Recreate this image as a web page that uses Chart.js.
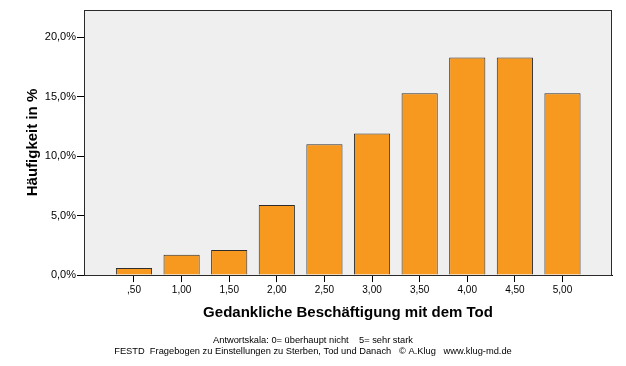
<!DOCTYPE html>
<html>
<head>
<meta charset="utf-8">
<script src="https://cdn.jsdelivr.net/npm/chart.js@4/dist/chart.umd.min.js"></script>
<style>
  html, body { margin: 0; padding: 0; background: #fff; }
  #wrap { width: 626px; height: 366px; }
</style>
</head>
<body>
<div id="wrap"><canvas id="barChart"></canvas></div>
<script>
// Gedankliche Beschäftigung mit dem Tod (Antwortskala 0-5)
const scores = [0.5, 1.0, 1.5, 2.0, 2.5, 3.0, 3.5, 4.0, 4.5, 5.0];
const tickLabels = [',50', '1,00', '1,50', '2,00', '2,50', '3,00', '3,50', '4,00', '4,50', '5,00'];
const percents = [0.6, 1.7, 2.1, 5.9, 11.0, 11.9, 15.3, 18.3, 18.3, 15.3];
const yTicks = [0, 5, 10, 15, 20];

const FONT = '"Liberation Sans", Arial, sans-serif';

// plot background + frame
const plotFrame = {
  id: 'plotFrame',
  beforeDraw(chart) {
    const { ctx, chartArea: a } = chart;
    ctx.save();
    ctx.fillStyle = '#efefef';
    ctx.fillRect(a.left, a.top, a.right - a.left, a.bottom - a.top);
    ctx.restore();
  },
  afterDraw(chart) {
    const { ctx, chartArea: a } = chart;
    ctx.save();
    ctx.strokeStyle = '#2a2a2a';
    ctx.lineWidth = 1;
    ctx.strokeRect(Math.round(a.left) + 0.5, Math.round(a.top) + 0.5,
      Math.round(a.right - a.left) - 1, Math.round(a.bottom - a.top));
    ctx.restore();
  },
};

new Chart(document.getElementById('barChart'), {
  type: 'bar',
  data: {
    datasets: [{
      data: scores.map((s, i) => ({ x: s, y: percents[i] })),
      backgroundColor: '#f7981f',
      borderColor: '#2e2e2e',
      borderWidth: 1,
      borderSkipped: 'bottom',
      barPercentage: 0.76,
      categoryPercentage: 1,
    }],
  },
  options: {
    responsive: true,
    maintainAspectRatio: false,
    animation: false,
    layout: {
      padding: { top: 10, right: 14, left: 14, bottom: 0 },
    },
    plugins: {
      legend: { display: false },
      tooltip: { enabled: false },
      title: {
        display: true,
        position: 'bottom',
        text: [
          'Antwortskala: 0= überhaupt nicht    5= sehr stark',
          'FESTD  Fragebogen zu Einstellungen zu Sterben, Tod und Danach   © A.Klug   www.klug-md.de',
        ],
        color: '#000',
        font: { family: FONT, size: 9.3, weight: 'normal', lineHeight: 1.18 },
        padding: { top: 10, bottom: 9 },
      },
    },
    scales: {
      x: {
        type: 'linear',
        min: -0.025,
        max: 5.52,
        offset: false,
        afterBuildTicks: (axis) => {
          axis.ticks = scores.map((v) => ({ value: v }));
        },
        afterFit: (axis) => { axis.height = 50; },
        grid: {
          offset: false,
          drawOnChartArea: false,
          drawTicks: true,
          tickLength: 7,
          tickColor: '#000',
        },
        border: { color: '#000', width: 1 },
        ticks: {
          autoSkip: false,
          maxRotation: 0,
          padding: 2,
          color: '#000',
          font: { family: FONT, size: 10 },
          callback: (value, index) => tickLabels[index],
        },
        title: {
          display: true,
          text: 'Gedankliche Beschäftigung mit dem Tod',
          color: '#000',
          font: { family: FONT, size: 15, weight: 'bold' },
          padding: { top: 0, bottom: 3 },
        },
      },
      y: {
        min: 0,
        max: 22.3,
        afterBuildTicks: (axis) => {
          axis.ticks = yTicks.map((v) => ({ value: v }));
        },
        afterFit: (axis) => { axis.width = 70; },
        grid: {
          drawOnChartArea: false,
          drawTicks: true,
          tickLength: 7,
          tickColor: '#000',
        },
        border: { color: '#000', width: 1 },
        ticks: {
          padding: 1,
          color: '#000',
          font: { family: FONT, size: 11 },
          callback: (value) => value.toFixed(1).replace('.', ',') + '%',
        },
        title: {
          display: true,
          text: 'Häufigkeit in %',
          color: '#000',
          font: { family: FONT, size: 15, weight: 'bold' },
          padding: { top: 10, bottom: 0 },
        },
      },
    },
  },
  plugins: [plotFrame],
});
</script>
</body>
</html>
